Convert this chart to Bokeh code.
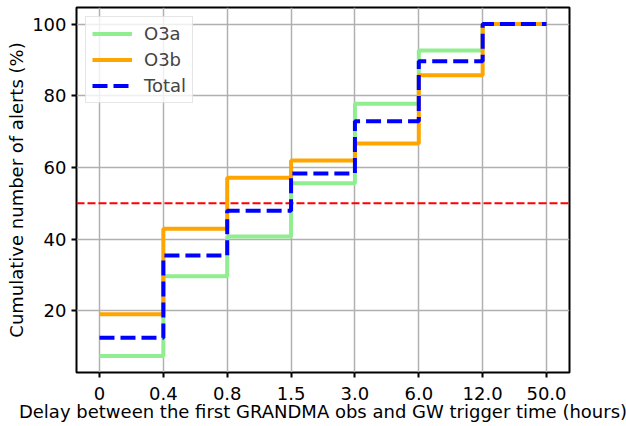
from bokeh.plotting import figure
from bokeh.models import FixedTicker, Span, Range1d, Legend, LegendItem
from bokeh.embed import file_html
from bokeh.resources import INLINE

# Data
tick_labels = ["0", "0.4", "0.8", "1.5", "3.0", "6.0", "12.0", "50.0"]
o3a = [7.4, 29.6, 40.7, 55.6, 77.8, 92.6, 100.0]
o3b = [19.0, 42.9, 57.1, 61.9, 66.7, 85.7, 100.0]
total = [12.5, 35.4, 47.9, 58.3, 72.9, 89.6, 100.0]
y_ticks = [20, 40, 60, 80, 100]
threshold = 50

xs = list(range(len(tick_labels)))

def ext(v):
    return v + [v[-1]]

FONT = "DejaVu Sans"
FS = "18px"

p = figure(width=626, height=426, output_backend="svg", toolbar_location=None,
           x_range=Range1d(-0.36, 7.36), y_range=Range1d(2.77, 104.63),
           min_border_left=76, min_border_right=57, min_border_top=7, min_border_bottom=54)

p.outline_line_color = "black"
p.outline_line_width = 2

span = Span(location=threshold, dimension="width", line_color="red", line_dash="8 3",
            line_width=2, level="underlay")
p.add_layout(span)

r1 = p.step(xs, ext(o3a), mode="after", line_color="#90ee90", line_width=4)
r2 = p.step(xs, ext(o3b), mode="after", line_color="#ffa500", line_width=4)
r3 = p.step(xs, ext(total), mode="after", line_color="#0000ff", line_width=4, line_dash="15 6")

legend = Legend(items=[LegendItem(label="O3a", renderers=[r1]),
                       LegendItem(label="O3b", renderers=[r2]),
                       LegendItem(label="Total", renderers=[r3])],
                location="top_left")
legend.label_text_font = FONT
legend.label_text_font_size = FS
legend.glyph_width = 40
legend.glyph_height = 21
legend.label_height = 21
legend.spacing = 5
legend.padding = 6
legend.margin = 9
legend.label_standoff = 12
legend.border_line_color = "#cccccc"
legend.border_line_width = 1
legend.background_fill_alpha = 0.8
p.add_layout(legend)

p.xaxis.ticker = FixedTicker(ticks=xs)
p.xaxis.major_label_overrides = {i: lab for i, lab in enumerate(tick_labels)}
p.yaxis.ticker = FixedTicker(ticks=y_ticks)

for ax in (p.xaxis, p.yaxis):
    ax.axis_line_color = None
    ax.major_tick_in = 0
    ax.major_tick_out = 5
    ax.major_tick_line_width = 2
    ax.major_tick_line_color = "black"
    ax.minor_tick_line_color = None
    ax.major_label_text_font = FONT
    ax.major_label_text_font_size = FS
    ax.major_label_text_color = "black"
    ax.axis_label_text_font = FONT
    ax.axis_label_text_font_size = FS
    ax.axis_label_text_font_style = "normal"
    ax.axis_label_text_color = "black"

p.xaxis.major_label_standoff = 9
p.yaxis.major_label_standoff = 5
p.xaxis.axis_label = "Delay between the first GRANDMA obs and GW trigger time (hours)"
p.yaxis.axis_label = "Cumulative number of alerts (%)"
p.xaxis.axis_label_standoff = -2
p.yaxis.axis_label_standoff = 2

p.grid.grid_line_color = "#b0b0b0"
p.grid.grid_line_width = 1.5

open("out.html", "w").write(file_html(p, INLINE))
